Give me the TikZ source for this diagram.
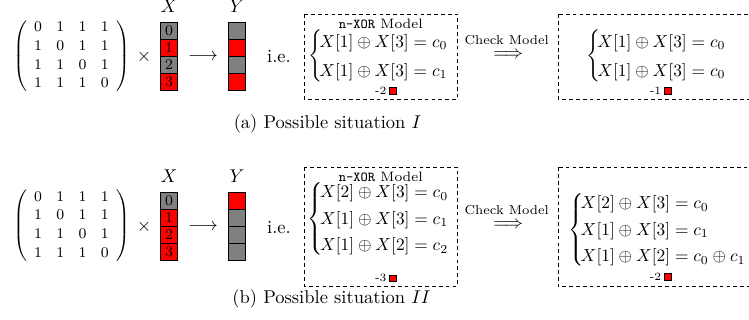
\documentclass[tikz,border=0pt]{standalone}
\usepackage{amsmath, amssymb}
\usepackage{graphicx}
\usepackage{tikz}
\usetikzlibrary{positioning}

% the 4x4 matrix used in both situations
\newcommand{\flipmat}{{\footnotesize\setlength{\arraycolsep}{3.9pt}\renewcommand{\arraystretch}{1.06}%
  $\left(\begin{array}{cccc}
    0 & 1 & 1 & 1\\
    1 & 0 & 1 & 1\\
    1 & 1 & 0 & 1\\
    1 & 1 & 1 & 0
  \end{array}\right)$}}
% a braced system of equations
\newcommand{\xorsys}[2][1.26]{\scalebox{0.94}{\renewcommand{\arraystretch}{#1}%
  $\left\{\!\begin{array}{@{}l@{}}#2\end{array}\right.$}}

\begin{document}
\begin{tikzpicture}[
    x=0.5405pt, y=-0.5405pt,
    cell/.style={draw, fill=gray, minimum size=9.2pt, inner sep=0pt, font=\footnotesize},
    hot/.style={fill=red},
    dashbox/.style={draw, thin, dash pattern=on 2pt off 1.7pt},
    flag/.style={draw, fill=red, minimum size=3.6pt, inner sep=0pt},
    score/.style={font=\fontsize{6}{7}\selectfont, inner sep=0.5pt},
    tag/.style={font=\fontsize{7.4}{9}\selectfont},
    chk/.style={font=\scriptsize}
  ]
  \useasboundingbox (0,0) rectangle (749,320);

  % situation I
  \node (matA) at (71.5,56) {\flipmat};
  \node (timesA) at (144,57) {$\times$};
  \foreach \i/\s in {0/,1/hot,2/,3/hot}
    \node[cell,\s] (xa\i) at (169,31.2+17*\i) {$\i$};
  \node[above=2pt of xa0] (xlabA) {$X$};
  \node (toA) at (203,57) {$\longrightarrow$};
  \foreach \i/\s in {0/,1/hot,2/,3/hot}
    \node[cell,\s] (ya\i) at (237,31.2+17*\i) {};
  \node[above=2pt of ya0] (ylabA) {$Y$};
  \node (ieA) at (279,57) {i.e.};

  \draw[dashbox] (304.3,14) rectangle (457.3,99);
  \node[tag] (nameA) at (380.8,24) {\texttt{n-XOR} Model};
  \node (sysA) at (378.8,56) {\xorsys[1.38]{
      X[1]\oplus X[3]=c_0\\
      X[1]\oplus X[3]=c_1}};
  \node[score] (lossA) at (380.8,90.7) {-2};
  \node[flag, right=0.8pt of lossA] (flagA) {};

  \node[chk] (chkA) at (506.7,40) {Check Model};
  \node (impA) at (508.3,55) {$\Longrightarrow$};

  \draw[dashbox] (558.3,14) rectangle (763,99);
  \node (sysA2) at (656.8,56) {\xorsys[1.38]{
      X[1]\oplus X[3]=c_0\\
      X[1]\oplus X[3]=c_0}};
  \node[score] (lossA2) at (655.5,90.7) {-1};
  \node[flag, right=0.8pt of lossA2] (flagA2) {};

  \node (capA) at (327.5,124) {(a) Possible situation $I$};

  % situation II
  \node (matB) at (71.5,225.5) {\flipmat};
  \node (timesB) at (144,227.3) {$\times$};
  \foreach \i/\s in {0/,1/hot,2/hot,3/hot}
    \node[cell,\s] (xb\i) at (169,201.2+17*\i) {$\i$};
  \node[above=2pt of xb0] (xlabB) {$X$};
  \node (toB) at (203,227) {$\longrightarrow$};
  \foreach \i/\s in {0/hot,1/,2/,3/}
    \node[cell,\s] (yb\i) at (237,201.2+17*\i) {};
  \node[above=2pt of yb0] (ylabB) {$Y$};
  \node (ieB) at (279,227.5) {i.e.};

  \draw[dashbox] (304.3,167.3) rectangle (457.3,286);
  \node[tag] (nameB) at (380.8,177.3) {\texttt{n-XOR} Model};
  \node (sysB) at (378.8,219) {\xorsys{
      X[2]\oplus X[3]=c_0\\
      X[1]\oplus X[3]=c_1\\
      X[1]\oplus X[2]=c_2}};
  \node[score] (lossB) at (380.8,278.3) {-3};
  \node[flag, right=0.8pt of lossB] (flagB) {};

  \node[chk] (chkB) at (506.7,210) {Check Model};
  \node (impB) at (508.3,225) {$\Longrightarrow$};

  \draw[dashbox] (558.3,167.3) rectangle (763,286.5);
  \node (sysB2) at (657.8,230) {\xorsys{
      X[2]\oplus X[3]=c_0\\
      X[1]\oplus X[3]=c_1\\
      X[1]\oplus X[2]=c_0\oplus c_1}};
  \node[score] (lossB2) at (655.5,276.7) {-2};
  \node[flag, right=0.8pt of lossB2] (flagB2) {};

  \node (capB) at (331.5,299) {(b) Possible situation $II$};
\end{tikzpicture}
\end{document}
